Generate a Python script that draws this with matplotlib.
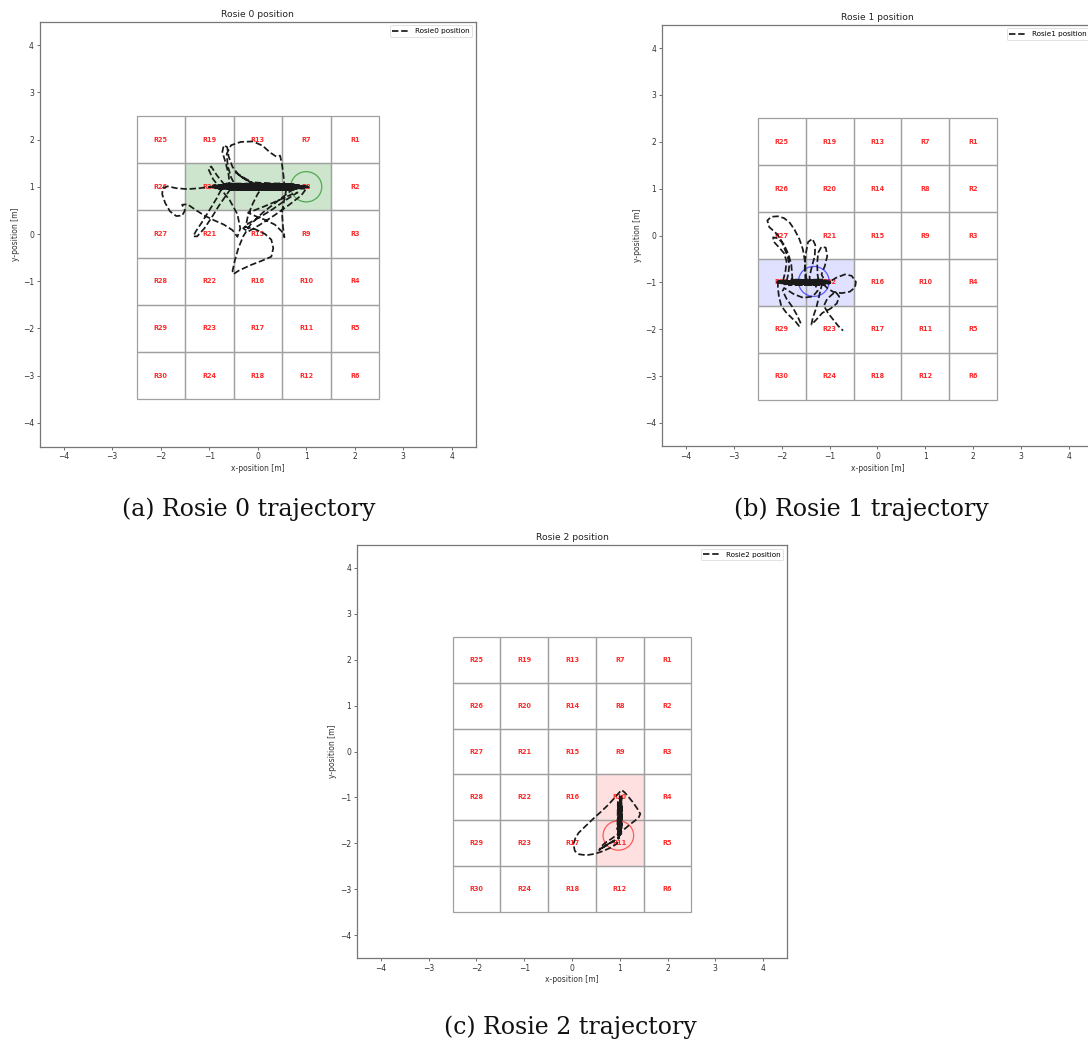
import matplotlib
matplotlib.use("Agg")
import matplotlib.pyplot as plt
from matplotlib.patches import Rectangle, Circle

# ---------------------------------------------------------------- data
# Region grid: 5 columns (x = 2 .. -2) by 6 rows (y = 2 .. -3), labelled R1..R30
grid_cols = [2, 1, 0, -1, -2]
grid_rows = [2, 1, 0, -1, -2, -3]
region_names = [f"R{k}" for k in range(1, 31)]

axis_ticks = [-4, -3, -2, -1, 0, 1, 2, 3, 4]

robot_titles = ["Rosie 0 position", "Rosie 1 position", "Rosie 2 position"]
legend_labels = ["Rosie0 position", "Rosie1 position", "Rosie2 position"]
captions = ["(a) Rosie 0 trajectory", "(b) Rosie 1 trajectory", "(c) Rosie 2 trajectory"]

active_regions = [["R20", "R14", "R8"], ["R28", "R22"], ["R10", "R11"]]
region_colors = ["green", "blue", "red"]
region_alpha = [0.2, 0.12, 0.12]
goal_centers = [(1.00, 1.00), (-1.33, -0.98), (0.97, -1.83)]
goal_radius = 0.32

rosie0_path = [
    (1.00, 1.00), (-0.95, 1.00), (1.02, 1.01), (-0.70, 1.06), (0.75, 1.05), (-0.85, 0.96),
    (0.95, 0.97), (-0.55, 0.93), (0.60, 0.94), (-0.90, 1.03), (0.98, 1.02), (-0.98, 1.00),
    (-1.20, 0.97), (-1.45, 0.95), (-1.68, 0.97), (-1.86, 1.01), (-1.96, 0.97), (-1.97, 0.84),
    (-1.91, 0.66), (-1.81, 0.48), (-1.68, 0.38), (-1.56, 0.39), (-1.50, 0.50), (-1.56, 0.62),
    (-1.45, 0.63), (-1.28, 0.51), (-1.10, 0.39), (-0.90, 0.29), (-0.70, 0.20), (-0.52, 0.08),
    (-0.42, -0.06), (-0.36, 0.12), (-0.42, 0.42), (-0.58, 0.72), (-0.76, 0.95),
    (-0.65, 1.07), (0.55, 1.06), (-0.98, 0.99), (0.90, 0.98), (-0.60, 0.95), (0.70, 0.93),
    (-0.80, 1.04), (0.85, 1.04), (-0.78, 0.98),
    (-0.92, 1.16), (-1.02, 1.38), (-0.96, 1.43), (-0.84, 1.24), (-0.70, 1.06),
    (-0.58, 1.00), (-0.60, 1.25), (-0.66, 1.50), (-0.73, 1.74), (-0.70, 1.88), (-0.63, 1.84),
    (-0.60, 1.64), (-0.52, 1.42), (-0.40, 1.26), (-0.25, 1.15), (-0.10, 1.05),
    (0.92, 0.99), (-0.45, 0.94), (0.50, 0.95), (-0.86, 1.02), (0.97, 1.01), (-0.50, 1.06),
    (0.45, 1.07), (-0.45, 1.00),
    (-0.55, 1.20), (-0.62, 1.45), (-0.64, 1.70), (-0.55, 1.88), (-0.35, 1.95), (-0.10, 1.96),
    (0.10, 1.87), (0.25, 1.73), (0.38, 1.64), (0.46, 1.66), (0.50, 1.48), (0.53, 1.24),
    (0.55, 1.03),
    (-0.70, 0.97), (0.98, 1.02), (-0.93, 0.99), (0.80, 0.95), (-0.60, 1.05), (1.05, 0.99),
    (-0.75, 1.02), (0.65, 1.06), (-0.40, 0.94), (0.60, 1.00),
    (0.55, 0.75), (0.50, 0.45), (0.52, 0.15), (0.55, -0.07), (0.50, 0.05),
    (0.35, 0.20), (0.15, 0.30), (-0.05, 0.38), (-0.20, 0.45), (0.10, 0.57), (0.40, 0.70),
    (0.70, 0.84), (0.82, 0.88), (0.55, 0.70), (0.30, 0.52), (0.05, 0.36), (-0.20, 0.22),
    (-0.30, 0.12), (-0.20, 0.05), (0.05, 0.20), (0.35, 0.40), (0.65, 0.62), (0.90, 0.82),
    (1.00, 0.96),
    (-0.75, 1.03), (0.94, 1.00), (-0.88, 0.97), (0.75, 0.94), (-0.55, 0.96), (0.85, 1.04),
    (-0.70, 1.00),
    (-0.75, 0.95), (-0.85, 0.75), (-1.00, 0.50), (-1.15, 0.25), (-1.28, 0.05), (-1.33, -0.05),
    (-1.25, -0.05), (-1.10, 0.12), (-0.95, 0.35), (-0.80, 0.60), (-0.65, 0.82), (-0.55, 0.97),
    (0.90, 0.99), (-0.92, 1.02), (0.97, 0.98), (-0.60, 1.00), (0.50, 0.93), (-0.35, 0.95),
    (0.80, 1.01),
    (0.60, 0.85), (0.35, 0.65), (0.10, 0.45), (-0.15, 0.20), (-0.30, -0.05), (-0.40, -0.30),
    (-0.47, -0.55), (-0.52, -0.78), (-0.50, -0.85), (-0.40, -0.78), (-0.15, -0.66),
    (0.10, -0.56), (0.28, -0.48), (0.32, -0.30), (0.28, -0.12), (0.15, 0.00), (-0.05, 0.10),
    (-0.25, 0.15), (-0.20, 0.40), (-0.10, 0.65), (0.00, 0.85), (0.10, 1.00),
    (-0.10, 1.08), (-0.30, 1.20), (-0.45, 1.30), (-0.35, 1.22), (-0.15, 1.10),
    (0.96, 1.01), (-0.85, 0.99), (0.99, 1.00), (-0.65, 1.04), (0.70, 1.05), (-0.45, 1.06),
    (0.40, 0.94), (-0.70, 0.96), (1.00, 0.99),
]

rosie1_path = [
    (-1.30, -1.00), (-2.05, -0.98), (-1.00, -1.02), (-1.95, -1.04), (-1.05, -0.96),
    (-2.10, -1.00), (-0.98, -1.01), (-1.80, -0.94), (-1.15, -0.95), (-1.90, -0.99),
    (-1.86, -0.80), (-1.84, -0.62), (-1.88, -0.44), (-1.95, -0.26), (-2.02, -0.08),
    (-2.12, 0.05), (-2.26, 0.18), (-2.30, 0.32), (-2.22, 0.40), (-2.08, 0.41), (-1.95, 0.37),
    (-1.83, 0.27), (-1.73, 0.12), (-1.63, -0.08), (-1.56, -0.29), (-1.52, -0.52),
    (-1.50, -0.80), (-1.48, -0.97),
    (-2.02, -1.02), (-1.02, -0.99), (-2.08, -0.97), (-1.10, -1.05), (-1.85, -1.06),
    (-1.20, -1.04), (-1.98, -1.00),
    (-1.92, -0.75), (-1.90, -0.55), (-1.95, -0.38), (-2.05, -0.26), (-2.16, -0.14),
    (-2.18, -0.04), (-2.08, -0.06), (-1.96, -0.18), (-1.86, -0.40), (-1.80, -0.62),
    (-1.78, -0.88), (-1.78, -1.00),
    (-1.00, -1.00), (-2.00, -0.98), (-1.15, -0.94), (-1.75, -0.95), (-1.05, -1.02),
    (-0.86, -0.90), (-0.68, -0.83), (-0.54, -0.86), (-0.45, -0.99), (-0.47, -1.11),
    (-0.58, -1.20), (-0.75, -1.23), (-0.93, -1.20), (-1.04, -1.13), (-1.12, -1.05),
    (-2.04, -1.01), (-0.97, -0.99), (-1.92, -1.03), (-1.25, -1.06), (-1.70, -1.05),
    (-1.50, -1.00),
    (-1.52, -0.70), (-1.50, -0.40), (-1.45, -0.14), (-1.36, -0.07), (-1.30, -0.20),
    (-1.31, -0.44), (-1.37, -0.66), (-1.42, -0.88), (-1.40, -1.00),
    (-1.02, -1.01), (-2.06, -0.99), (-1.20, -0.95), (-1.80, -0.96), (-1.08, -1.00),
    (-1.17, -0.83), (-1.10, -0.65), (-1.05, -0.44), (-1.08, -0.26), (-1.17, -0.24),
    (-1.24, -0.37), (-1.26, -0.60), (-1.25, -0.85), (-1.22, -1.00),
    (-2.00, -1.02), (-1.00, -0.98), (-1.85, -1.04), (-1.15, -1.03), (-2.08, -1.00),
    (-2.08, -1.11), (-2.06, -1.29), (-2.01, -1.50), (-1.91, -1.64), (-1.80, -1.75),
    (-1.70, -1.85), (-1.64, -1.93), (-1.60, -1.88), (-1.68, -1.70), (-1.78, -1.52),
    (-1.90, -1.35), (-1.98, -1.18),
    (-1.95, -1.12), (-1.75, -1.25), (-1.55, -1.33), (-1.35, -1.30), (-1.25, -1.18),
    (-1.30, -1.05),
    (-2.00, -0.99), (-1.00, -1.02), (-1.90, -1.00), (-1.30, -0.95), (-1.70, -0.97),
    (-1.15, -1.00),
    (-1.22, -1.30), (-1.28, -1.55), (-1.35, -1.75), (-1.38, -1.90), (-1.30, -1.82),
    (-1.15, -1.65), (-0.98, -1.56), (-0.85, -1.45), (-0.80, -1.30), (-0.88, -1.20),
    (-1.05, -1.35), (-1.12, -1.50), (-1.03, -1.66), (-0.92, -1.80), (-0.82, -1.93),
    (-0.72, -2.03),
]

rosie2_path = [
    (0.97, -1.83), (1.02, -1.00), (0.98, -1.88), (1.01, -1.05), (1.03, -1.80), (1.03, -0.97),
    (0.97, -1.90), (0.96, -1.10), (0.95, -1.70), (1.04, -1.02), (1.00, -1.86), (1.05, -1.20),
    (1.04, -1.65), (0.97, -1.92),
    (0.94, -2.01), (0.80, -2.10), (0.65, -2.17), (0.48, -2.23), (0.30, -2.26), (0.15, -2.24),
    (0.06, -2.17), (0.03, -2.02), (0.07, -1.89), (0.14, -1.77), (0.28, -1.63), (0.45, -1.46),
    (0.62, -1.30), (0.76, -1.16), (0.90, -1.00), (1.00, -0.88), (1.04, -0.84), (1.10, -0.89),
    (1.15, -0.95), (1.27, -1.10), (1.37, -1.25), (1.43, -1.36), (1.39, -1.45), (1.25, -1.56),
    (1.11, -1.68), (0.97, -1.79), (0.83, -1.90), (0.72, -1.97), (0.62, -2.06), (0.57, -2.15),
    (0.62, -2.10), (0.75, -2.02), (0.88, -1.95), (0.70, -2.06), (0.60, -2.12), (0.78, -2.00),
    (0.95, -1.90),
    (0.98, -1.88), (1.01, -1.00), (0.97, -1.84), (1.02, -1.06), (0.96, -1.75), (0.96, -1.15),
    (1.04, -1.60), (1.03, -1.08), (0.98, -1.86), (1.00, -0.98), (0.99, -1.82),
]
paths = [rosie0_path, rosie1_path, rosie2_path]

# ---------------------------------------------------------------- layout (pixels)
W, H = 1088, 1044
panel_boxes = [
    (39.5, 21.5, 476.0, 446.5),
    (662.0, 24.6, 1093.0, 446.4),
    (357.0, 545.0, 787.0, 958.0),
]
caption_pos = [(249, 509), (861, 509), (570, 1027)]

fig = plt.figure(figsize=(W / 100, H / 100), dpi=100)

region_xy = {}
for ci, cx in enumerate(grid_cols):
    for ri, ry in enumerate(grid_rows):
        region_xy[region_names[ci * len(grid_rows) + ri]] = (cx, ry)

for i in range(3):
    l, t, r, b = panel_boxes[i]
    ax = fig.add_axes([l / W, 1 - b / H, (r - l) / W, (b - t) / H])
    ax.set_xlim(-4.5, 4.5)
    ax.set_ylim(-4.5, 4.5)

    # highlighted regions
    for name in active_regions[i]:
        cx, cy = region_xy[name]
        ax.add_patch(Rectangle((cx - 0.5, cy - 0.5), 1, 1, facecolor=region_colors[i],
                               alpha=region_alpha[i], edgecolor="none", zorder=1))
    # region cells and labels
    for name, (cx, cy) in region_xy.items():
        ax.add_patch(Rectangle((cx - 0.5, cy - 0.5), 1, 1, fill=False,
                               edgecolor="#a0a0a0", lw=0.9, zorder=2))
        ax.text(cx, cy, name, color="#ff2a2a", fontsize=4.7, fontweight="bold",
                ha="center", va="center", zorder=3)

    # goal circle
    ax.add_patch(Circle(goal_centers[i], goal_radius, fill=False,
                        edgecolor=region_colors[i], alpha=0.6, lw=0.9, zorder=4))

    # trajectory
    xs = [p[0] for p in paths[i]]
    ys = [p[1] for p in paths[i]]
    ax.plot(xs, ys, linestyle="--", color="#1a1a1a", lw=1.25, zorder=5,
            label=legend_labels[i])

    ax.set_title(robot_titles[i], fontsize=6.6, pad=3.5, color="#222222")
    ax.set_xlabel("x-position [m]", fontsize=5.5, labelpad=2, color="#333333")
    ax.set_ylabel("y-position [m]", fontsize=5.5, labelpad=2, color="#333333")
    ax.set_xticks(axis_ticks)
    ax.set_yticks(axis_ticks)
    ax.tick_params(labelsize=5.5, length=2, width=0.5, pad=2, colors="#333333")
    for s in ax.spines.values():
        s.set_color("#777777")
        s.set_linewidth(0.9)
    leg = ax.legend(loc="upper right", fontsize=5.2, frameon=True, fancybox=True,
                    handlelength=2.3)
    leg.get_frame().set_linewidth(0.5)
    leg.get_frame().set_edgecolor("#cccccc")

for (cx, cy), cap in zip(caption_pos, captions):
    fig.text(cx / W, 1 - cy / H, cap, ha="center", va="center",
             fontsize=17, family="DejaVu Serif", color="#111111")

fig.savefig("out.png", dpi=100)
